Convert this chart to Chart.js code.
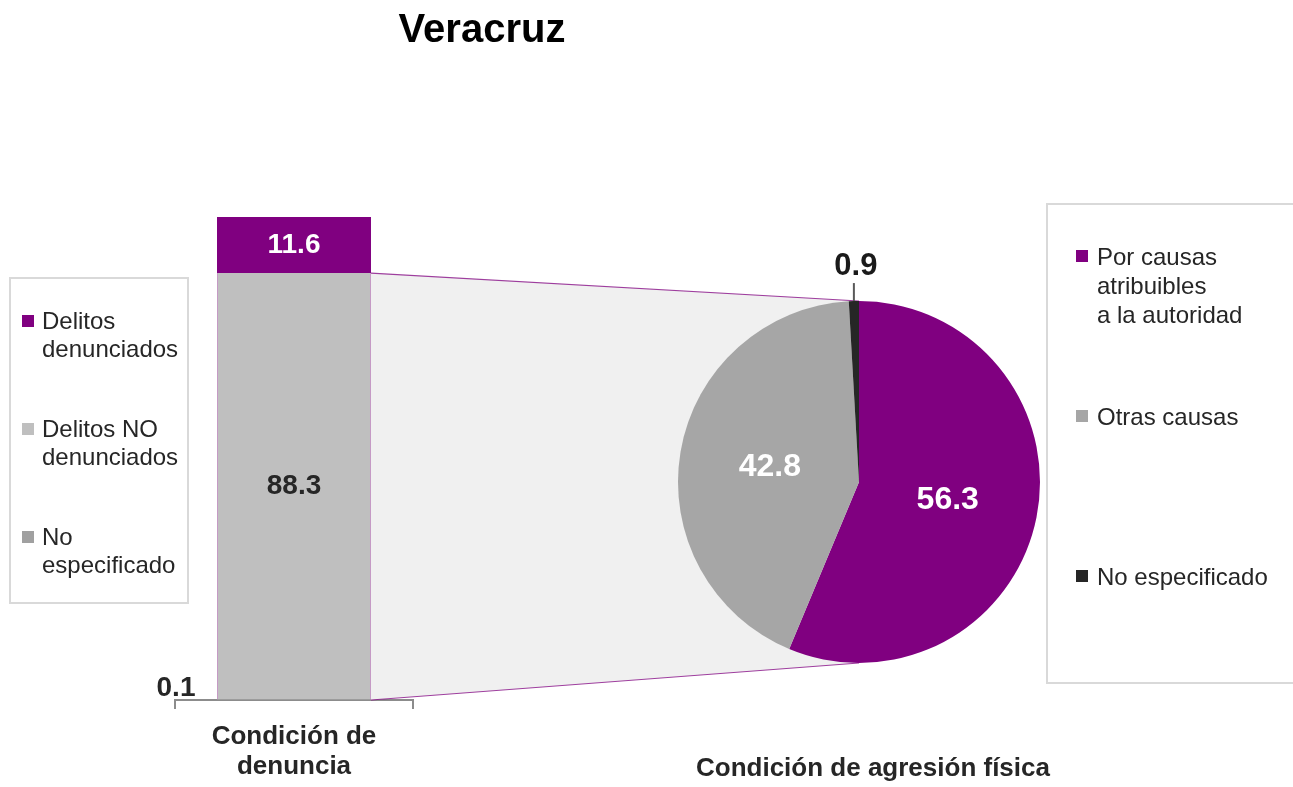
<!DOCTYPE html>
<html>
<head>
<meta charset="utf-8">
<script src="https://cdn.jsdelivr.net/npm/chart.js@4.4.1/dist/chart.umd.min.js"></script>
<style>
  body { margin: 0; background: #fff; font-family: "Liberation Sans", Arial, sans-serif; color: #262626; }
  #wrap { position: relative; width: 1293px; height: 787px; overflow: hidden; }
  #wrap canvas { position: absolute; left: 0; top: 0; }
  #title { position: absolute; left: 0; top: 8px; width: 964px; text-align: center; font-size: 40px; line-height: 40px; font-weight: bold; color: #000; }
  #pieTitle { position: absolute; left: 673px; top: 752px; width: 400px; text-align: center; font-size: 26px; line-height: 30px; font-weight: bold; }
  .legend { position: absolute; border: 2px solid #d9d9d9; background: #fff; box-sizing: border-box; }
  .legend .item { position: relative; white-space: pre-line; }
  .legend .box { position: absolute; width: 12px; height: 12px; }
  #barLegend { left: 9px; top: 277px; width: 180px; height: 327px; padding: 28px 0 0 31px; font-size: 24px; line-height: 28px; }
  #barLegend .item { height: 108px; }
  #barLegend .box { left: -20px; top: 8px; }
  #pieLegend { left: 1046px; top: 203px; width: 270px; height: 481px; padding: 37px 0 0 49px; font-size: 24px; line-height: 29px; }
  #pieLegend .item { height: 160px; }
  #pieLegend .box { left: -21px; top: 8px; }
</style>
</head>
<body>
<div id="wrap">
  <canvas id="barChart" width="1293" height="830"></canvas>
  <canvas id="pieChart" width="1293" height="830"></canvas>
  <div id="title"></div>
  <div id="pieTitle"></div>
  <div class="legend" id="barLegend"></div>
  <div class="legend" id="pieLegend"></div>
</div>
<script>
const chartTitle = "Veracruz";
const barCategory = [["Condición de", "denuncia"]];
const barSeries = ["Delitos denunciados", "Delitos NO denunciados", "No especificado"];
const barValues = [11.6, 88.3, 0.1];
const barLegendText = ["Delitos\ndenunciados", "Delitos NO\ndenunciados", "No\nespecificado"];

const pieCategories = ["Por causas atribuibles a la autoridad", "Otras causas", "No especificado"];
const pieValues = [56.3, 42.8, 0.9];
const pieLegendText = ["Por causas\natribuibles\na la autoridad", "Otras causas", "No especificado"];
const pieAxisTitle = "Condición de agresión física";

const barColors = ["#800080", "#bfbfbf", "#a0a0a0"];
const pieColors = ["#800080", "#a6a6a6", "#262626"];
const FONT = "'Liberation Sans', Arial, sans-serif";

document.getElementById("title").textContent = chartTitle;
document.getElementById("pieTitle").textContent = pieAxisTitle;

function buildLegend(id, texts, colors) {
  const el = document.getElementById(id);
  texts.forEach((t, i) => {
    const item = document.createElement("div");
    item.className = "item";
    const box = document.createElement("span");
    box.className = "box";
    box.style.background = colors[i];
    item.appendChild(box);
    item.appendChild(document.createTextNode(t));
    el.appendChild(item);
  });
}
buildLegend("barLegend", barLegendText, barColors);
buildLegend("pieLegend", pieLegendText, pieColors);

// etiquetas del pastel
const pieLabels = {
  id: "pieLabels",
  afterDatasetsDraw(chart) {
    const ctx = chart.ctx;
    const meta = chart.getDatasetMeta(0);
    ctx.save();
    ctx.textAlign = "center";
    ctx.textBaseline = "middle";
    meta.data.forEach((arc, i) => {
      const v = pieValues[i];
      const mid = (arc.startAngle + arc.endAngle) / 2;
      if (v < 5) {
        const x = arc.x + Math.cos(mid) * arc.outerRadius;
        const y0 = arc.y + Math.sin(mid) * arc.outerRadius;
        ctx.strokeStyle = "#595959";
        ctx.lineWidth = 2;
        ctx.beginPath();
        ctx.moveTo(x, y0);
        ctx.lineTo(x, y0 - 18);
        ctx.stroke();
        ctx.fillStyle = "#1a1a1a";
        ctx.font = "bold 31px " + FONT;
        ctx.fillText(v.toFixed(1), x + 2, y0 - 35);
      } else {
        const r = arc.outerRadius * 0.5;
        ctx.fillStyle = "#fff";
        ctx.font = "bold 32px " + FONT;
        ctx.fillText(v.toFixed(1), arc.x + Math.cos(mid) * r, arc.y + Math.sin(mid) * r);
      }
    });
    ctx.restore();
  }
};

const pieChart = new Chart(document.getElementById("pieChart"), {
  type: "pie",
  data: {
    labels: pieCategories,
    datasets: [{ data: pieValues, backgroundColor: pieColors, borderWidth: 0 }]
  },
  options: {
    responsive: false,
    animation: false,
    layout: { padding: { left: 678, right: 253, top: 301, bottom: 167 } },
    plugins: { legend: { display: false }, tooltip: { enabled: false } }
  },
  plugins: [pieLabels]
});

// zona gris que une la barra con el pastel
const connector = {
  id: "connector",
  beforeDatasetsDraw(chart) {
    const arc = pieChart.getDatasetMeta(0).data[0];
    const cx = arc.x, cy = arc.y, r = arc.outerRadius;
    const gray = chart.getDatasetMeta(1).data[0];
    const right = gray.x + gray.width / 2;
    const top = gray.y;
    const bottom = chart.getDatasetMeta(0).data[0].base;
    const ctx = chart.ctx;
    ctx.save();
    ctx.fillStyle = "#f0f0f0";
    ctx.beginPath();
    ctx.moveTo(right, top);
    ctx.lineTo(cx, cy - r);
    ctx.lineTo(cx, cy + r);
    ctx.lineTo(right, bottom);
    ctx.closePath();
    ctx.fill();
    ctx.strokeStyle = "rgba(128,0,128,0.75)";
    ctx.lineWidth = 1.2;
    ctx.beginPath();
    ctx.moveTo(right, top);
    ctx.lineTo(cx, cy - r);
    ctx.moveTo(right, bottom);
    ctx.lineTo(cx, cy + r);
    ctx.stroke();
    ctx.restore();
  }
};

// etiquetas de la barra
const barLabels = {
  id: "barLabels",
  afterDatasetsDraw(chart) {
    const ctx = chart.ctx;
    ctx.save();
    ctx.textAlign = "center";
    ctx.textBaseline = "middle";
    chart.data.datasets.forEach((ds, i) => {
      const el = chart.getDatasetMeta(i).data[0];
      const v = ds.data[0];
      ctx.font = "bold 28px " + FONT;
      if (v < 5) {
        ctx.fillStyle = "#262626";
        ctx.fillText(v.toFixed(1), el.x - el.width / 2 - 41, el.base - 12);
      } else {
        ctx.fillStyle = ds.backgroundColor === "#800080" ? "#fff" : "#262626";
        ctx.fillText(v.toFixed(1), el.x, (el.y + el.base) / 2);
      }
    });
    ctx.restore();
  }
};

const stackOrder = [2, 1, 0]; // de abajo hacia arriba
const barChart = new Chart(document.getElementById("barChart"), {
  type: "bar",
  data: {
    labels: barCategory,
    datasets: stackOrder.map(i => ({
      label: barSeries[i],
      data: [barValues[i]],
      backgroundColor: barColors[i],
      borderColor: i === 1 ? "#c59ac5" : barColors[i],
      borderWidth: i === 1 ? { left: 1, right: 1, top: 0, bottom: 0 } : 0,
      borderSkipped: false,
      categoryPercentage: 1,
      barPercentage: 0.647
    }))
  },
  options: {
    responsive: false,
    animation: false,
    layout: { padding: { left: 175, right: 880, top: 217, bottom: 35 } },
    scales: {
      x: {
        stacked: true,
        offset: true,
        grid: { display: true, offset: true, drawOnChartArea: false, tickLength: 9, color: "#8c8c8c", lineWidth: 2 },
        border: { display: true, color: "#8c8c8c", width: 2 },
        ticks: { color: "#262626", padding: 13, font: { family: FONT, size: 26, weight: "bold", lineHeight: 1.154 } }
      },
      y: { stacked: true, min: 0, max: 100, display: false }
    },
    plugins: { legend: { display: false }, tooltip: { enabled: false } }
  },
  plugins: [connector, barLabels]
});
</script>
</body>
</html>
